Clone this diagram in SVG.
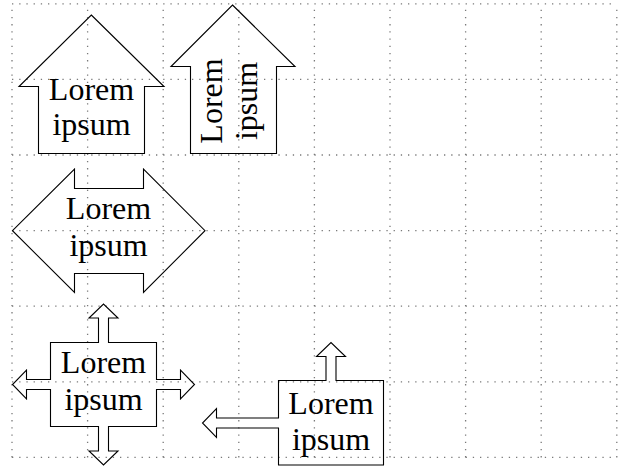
<svg xmlns="http://www.w3.org/2000/svg" width="620" height="470" viewBox="0 0 620 470">
<style>
.grid line{stroke:#7a7a7a;stroke-width:1.3;stroke-dasharray:1.3 5.9;fill:none}
.shape{fill:none;stroke:#000;stroke-width:1.1;stroke-linejoin:miter}
.lbl{font-family:"Liberation Serif","Times New Roman",serif;font-size:32px;fill:#000;text-anchor:middle}
</style>
<rect width="620" height="470" fill="#fff"/>
<g id="grid" class="grid">
<line x1="12" y1="457.4" x2="12" y2="3.8"/>
<line x1="87.6" y1="457.4" x2="87.6" y2="3.8"/>
<line x1="163.2" y1="457.4" x2="163.2" y2="3.8"/>
<line x1="238.8" y1="457.4" x2="238.8" y2="3.8"/>
<line x1="314.4" y1="457.4" x2="314.4" y2="3.8"/>
<line x1="390" y1="457.4" x2="390" y2="3.8"/>
<line x1="465.6" y1="457.4" x2="465.6" y2="3.8"/>
<line x1="541.2" y1="457.4" x2="541.2" y2="3.8"/>
<line x1="616.8" y1="457.4" x2="616.8" y2="3.8"/>
<line x1="12" y1="457.4" x2="616.8" y2="457.4"/>
<line x1="12" y1="381.8" x2="616.8" y2="381.8"/>
<line x1="12" y1="306.2" x2="616.8" y2="306.2"/>
<line x1="12" y1="230.6" x2="616.8" y2="230.6"/>
<line x1="12" y1="155" x2="616.8" y2="155"/>
<line x1="12" y1="79.4" x2="616.8" y2="79.4"/>
<line x1="12" y1="3.8" x2="616.8" y2="3.8"/>
</g>
<g id="connectors"></g>
<g id="arrow-up-1">
<path class="shape" d="M91.3,15 L164,86.5 L144.5,86.5 L144.5,153.5 L38.5,153.5 L38.5,86.5 L19,86.5 Z"/>
<text class="lbl" x="91.5" y="99.5">Lorem</text>
<text class="lbl" x="91.5" y="135">ipsum</text>
</g>
<g id="arrow-up-2">
<path class="shape" d="M232.5,5 L295,66.5 L276.5,66.5 L276.5,153.5 L190.5,153.5 L190.5,66.5 L171,66.5 Z"/>
<g transform="translate(221.5,101) rotate(-90)">
<text class="lbl" x="0" y="0">Lorem</text>
<text class="lbl" x="0" y="35.5">ipsum</text>
</g>
</g>
<g id="double-arrow">
<path class="shape" d="M12.5,230.7 L74.5,169 L74.5,188.5 L143.5,188.5 L143.5,169 L205,230.7 L143.5,292.5 L143.5,273.5 L74.5,273.5 L74.5,292.5 Z"/>
<text class="lbl" x="108.5" y="219">Lorem</text>
<text class="lbl" x="108.5" y="255.5">ipsum</text>
</g>
<g id="arrow-box-4">
<path class="shape" d="M50.5,342.5 L98.5,342.5 L98.5,318 L89,318 L103.5,304 L118,318 L108.5,318 L108.5,342.5 L156.5,342.5 L156.5,379.5 L180.5,379.5 L180.5,370 L194.5,384.5 L180.5,399 L180.5,389.5 L156.5,389.5 L156.5,426.5 L108.5,426.5 L108.5,451 L118,451 L103.5,465 L89,451 L98.5,451 L98.5,426.5 L50.5,426.5 L50.5,389.5 L26.5,389.5 L26.5,399 L12.5,384.5 L26.5,370 L26.5,379.5 L50.5,379.5 Z"/>
<text class="lbl" x="103.5" y="373">Lorem</text>
<text class="lbl" x="103.5" y="409.5">ipsum</text>
</g>
<g id="arrow-box-2">
<path class="shape" d="M278.5,380.5 L326,380.5 L326,356.5 L316.5,356.5 L331,342.5 L345.5,356.5 L336,356.5 L336,380.5 L383.5,380.5 L383.5,465 L278.5,465 L278.5,428 L216.5,428 L216.5,437.5 L202.5,423 L216.5,408.5 L216.5,418 L278.5,418 Z"/>
<text class="lbl" x="331" y="414">Lorem</text>
<text class="lbl" x="331" y="450">ipsum</text>
</g>
</svg>
